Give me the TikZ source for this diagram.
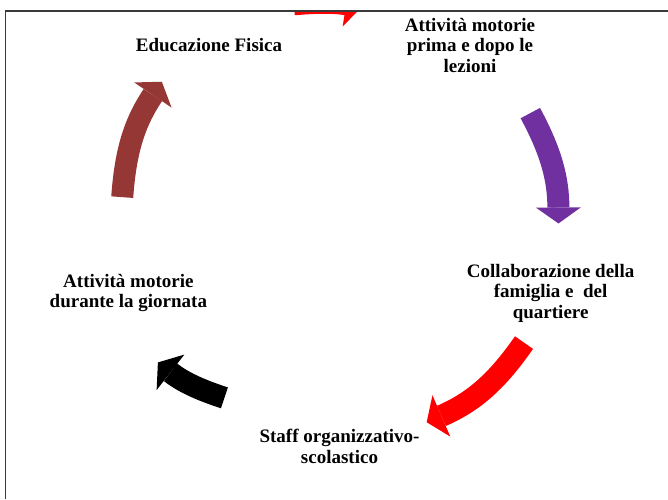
\documentclass[tikz,border=0pt]{standalone}
\usepackage{fontspec}
\setmainfont{Liberation Serif}
\usetikzlibrary{arrows.meta, calc}
\definecolor{browncol}{HTML}{953735}
\definecolor{purplecol}{HTML}{7030A0}
\definecolor{redcol}{HTML}{FF0000}
\definecolor{framecol}{HTML}{3A3A3A}

\begin{document}
\begin{tikzpicture}[
    x=1pt, y=1pt,
    cyctext/.style={
        align=center, inner sep=0pt,
        font=\fontsize{19}{20.5}\selectfont\bfseries
    },
    cycarrow/.style={
        line width=22pt,
        -{Triangle[length=16pt, width=45pt, line width=0pt]}
    },
]
\useasboundingbox (0,0) rectangle (668,499);
\coordinate (cyc) at (339.5,274.4);

% ── Nodes ──
\node[cyctext] (edu)   at ($(cyc)+(126:222)$) {Educazione Fisica};
\node[cyctext] (pre)   at ($(cyc)+(54:222)$)  {Attività motorie\\prima e dopo le\\lezioni};
\node[cyctext] (fam)   at ($(cyc)+(-18:222)$) {Collaborazione della\\famiglia e~ del\\quartiere};
\node[cyctext] (staff) at ($(cyc)+(-90:222)$) {Staff organizzativo-\\scolastico};
\node[cyctext] (day)   at ($(cyc)+(198:222)$) {Attività motorie\\durante la giornata};

% ── Arrow ends ──
\coordinate (eduS)   at ($(cyc)+(101.7:225)$);
\coordinate (eduE)   at ($(cyc)+(84.1:219)$);
\coordinate (preS)   at ($(cyc)+(30.3:221)$);
\coordinate (preE)   at ($(cyc)+(0.3:219)$);
\coordinate (famS)   at ($(cyc)+(-32.6:219)$);
\coordinate (famE)   at ($(cyc)+(-66.2:216)$);
\coordinate (staffS) at ($(cyc)+(-123.6:208)$);
\coordinate (staffE) at ($(cyc)+(-142.8:228)$);
\coordinate (dayS)   at ($(cyc)+(172.8:219)$);
\coordinate (dayE)   at ($(cyc)+(141.2:228)$);

% ── Cycle arrows ──
\begin{scope}
\clip (5.5,0) rectangle (668,487.5);
\draw[cycarrow, redcol]    (eduS)   to[bend left=7]  (eduE);
\draw[cycarrow, purplecol] (preS)   to[bend left=14] (preE);
\draw[cycarrow, redcol]    (famS)   to[bend left=16] (famE);
\draw[cycarrow, black]     (staffS) to[bend left=10] (staffE);
\draw[cycarrow, browncol]  (dayS)   to[bend left=15] (dayE);
\end{scope}

% ── Frame ──
\draw[framecol, line width=1.3pt] (5.5,0) -- (5.5,488) -- (668,488);

\end{tikzpicture}
\end{document}
